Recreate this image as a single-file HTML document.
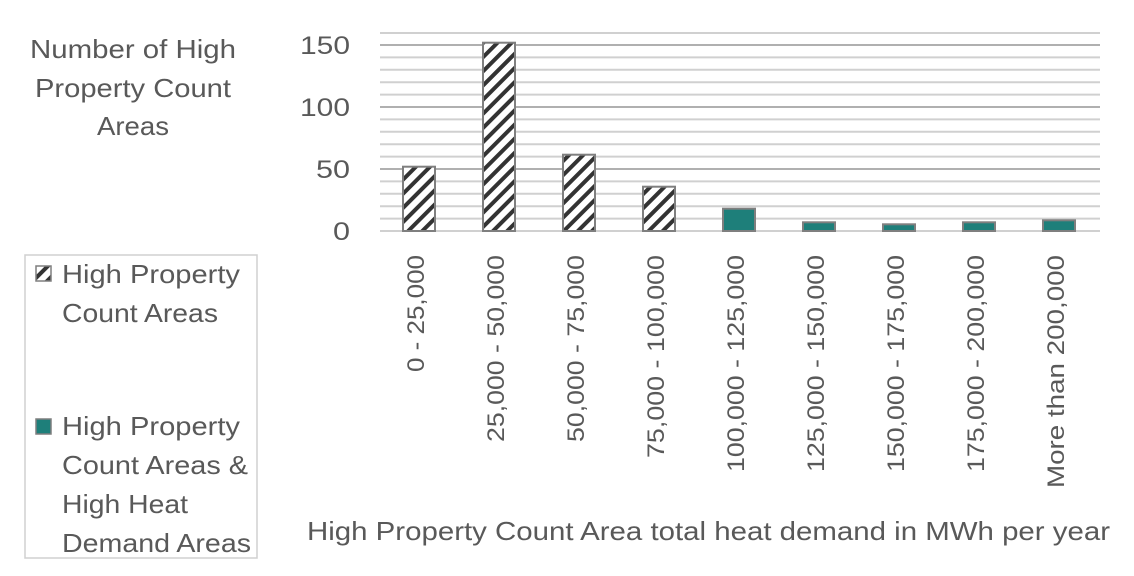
<!DOCTYPE html>
<html><head><style>body{margin:0;background:#fff}svg{display:block}</style></head><body>
<svg width="1134" height="576" xmlns="http://www.w3.org/2000/svg" font-family="Liberation Sans, sans-serif" fill="#595959">
<defs>
<pattern id="h" patternUnits="userSpaceOnUse" width="10" height="10" patternTransform="rotate(45)">
<rect width="10" height="10" fill="#fff"/><rect width="4" height="10" fill="#333"/>
</pattern>
</defs>
<g stroke="#d0d0d0" stroke-width="2">
<line x1="380" x2="1100" y1="33" y2="33"/>
<line x1="380" x2="1100" y1="57.4" y2="57.4"/>
<line x1="380" x2="1100" y1="69.8" y2="69.8"/>
<line x1="380" x2="1100" y1="82.2" y2="82.2"/>
<line x1="380" x2="1100" y1="94.6" y2="94.6"/>
<line x1="380" x2="1100" y1="119.4" y2="119.4"/>
<line x1="380" x2="1100" y1="131.8" y2="131.8"/>
<line x1="380" x2="1100" y1="144.2" y2="144.2"/>
<line x1="380" x2="1100" y1="156.6" y2="156.6"/>
<line x1="380" x2="1100" y1="181.4" y2="181.4"/>
<line x1="380" x2="1100" y1="193.8" y2="193.8"/>
<line x1="380" x2="1100" y1="206.2" y2="206.2"/>
<line x1="380" x2="1100" y1="218.6" y2="218.6"/>
</g>
<g stroke="#b0b0b0" stroke-width="2">
<line x1="380" x2="1100" y1="45" y2="45"/>
<line x1="380" x2="1100" y1="107" y2="107"/>
<line x1="380" x2="1100" y1="169" y2="169"/>
<line x1="380" x2="1100" y1="231" y2="231" stroke="#d0d0d0"/>
</g>
<g stroke="#7f7f7f" stroke-width="2">
<rect x="403" y="166.7" width="32" height="64.3" fill="url(#h)"/>
<rect x="483" y="42.7" width="32" height="188.3" fill="url(#h)"/>
<rect x="563" y="154.7" width="32" height="76.3" fill="url(#h)"/>
<rect x="643" y="186.7" width="32" height="44.3" fill="url(#h)"/>
<rect x="723" y="208.7" width="32" height="22.3" fill="#1e7f7a"/>
<rect x="803" y="222.3" width="32" height="8.7" fill="#1e7f7a"/>
<rect x="883" y="224.3" width="32" height="6.7" fill="#1e7f7a"/>
<rect x="963" y="222.3" width="32" height="8.7" fill="#1e7f7a"/>
<rect x="1043" y="220.3" width="32" height="10.7" fill="#1e7f7a"/>
</g>
<g font-size="25" text-anchor="end" lengthAdjust="spacingAndGlyphs">
<text x="350" y="54" textLength="50" lengthAdjust="spacingAndGlyphs">150</text>
<text x="350" y="116" textLength="50" lengthAdjust="spacingAndGlyphs">100</text>
<text x="350" y="178" textLength="34" lengthAdjust="spacingAndGlyphs">50</text>
<text x="350" y="240" textLength="17" lengthAdjust="spacingAndGlyphs">0</text>
</g>
<g font-size="26">
<text x="30" y="58" textLength="206" lengthAdjust="spacingAndGlyphs">Number of High</text>
<text x="35" y="97" textLength="196" lengthAdjust="spacingAndGlyphs">Property Count</text>
<text x="97" y="135" textLength="72" lengthAdjust="spacingAndGlyphs">Areas</text>
<text x="307" y="540" textLength="803" lengthAdjust="spacingAndGlyphs">High Property Count Area total heat demand in MWh per year</text>
</g>
<g font-size="24" text-anchor="end">
<text transform="translate(424,255) rotate(-90)" textLength="117" lengthAdjust="spacingAndGlyphs">0 - 25,000</text>
<text transform="translate(504,255) rotate(-90)" textLength="187" lengthAdjust="spacingAndGlyphs">25,000 - 50,000</text>
<text transform="translate(584,255) rotate(-90)" textLength="187" lengthAdjust="spacingAndGlyphs">50,000 - 75,000</text>
<text transform="translate(664,255) rotate(-90)" textLength="203" lengthAdjust="spacingAndGlyphs">75,000 - 100,000</text>
<text transform="translate(744,255) rotate(-90)" textLength="217" lengthAdjust="spacingAndGlyphs">100,000 - 125,000</text>
<text transform="translate(824,255) rotate(-90)" textLength="217" lengthAdjust="spacingAndGlyphs">125,000 - 150,000</text>
<text transform="translate(904,255) rotate(-90)" textLength="217" lengthAdjust="spacingAndGlyphs">150,000 - 175,000</text>
<text transform="translate(984,255) rotate(-90)" textLength="217" lengthAdjust="spacingAndGlyphs">175,000 - 200,000</text>
<text transform="translate(1064,255) rotate(-90)" textLength="233" lengthAdjust="spacingAndGlyphs">More than 200,000</text>
</g>
<rect x="25" y="255" width="232" height="303" fill="none" stroke="#d0d0d0" stroke-width="1.5"/>
<rect x="36" y="266" width="15" height="15" fill="url(#h)" stroke="#7f7f7f" stroke-width="1.5"/>
<rect x="36" y="419" width="15" height="15" fill="#1e7f7a" stroke="#7f7f7f" stroke-width="1.5"/>
<g font-size="26">
<text x="62" y="283" textLength="178" lengthAdjust="spacingAndGlyphs">High Property</text>
<text x="62" y="322" textLength="156" lengthAdjust="spacingAndGlyphs">Count Areas</text>
<text x="62" y="435" textLength="178" lengthAdjust="spacingAndGlyphs">High Property</text>
<text x="62" y="474" textLength="186" lengthAdjust="spacingAndGlyphs">Count Areas &amp;</text>
<text x="62" y="513" textLength="126" lengthAdjust="spacingAndGlyphs">High Heat</text>
<text x="62" y="552" textLength="189" lengthAdjust="spacingAndGlyphs">Demand Areas</text>
</g>
</svg>
</body></html>
